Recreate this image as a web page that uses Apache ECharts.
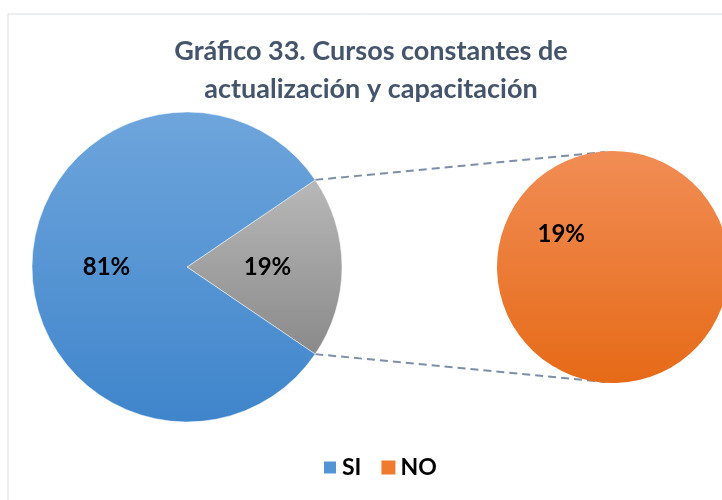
<!DOCTYPE html>
<html>
<head>
<meta charset="utf-8">
<script src="https://cdn.jsdelivr.net/npm/echarts@6/dist/echarts.min.js"></script>
<style>
  html, body { margin: 0; padding: 0; background: #fff; }
  #chart { width: 722px; height: 500px; }
</style>
</head>
<body>
<div id="chart"></div>
<script>
  var categories = ['SI', 'NO'];
  var values = [81, 19];
  var mainCenter = [187, 267], mainRadius = 155;
  var subCenter = [613, 267], subRadius = 116;

  // angulo de la porcion gris (NO), centrada a la derecha
  var half = values[1] / (values[0] + values[1]) * 180;
  var rad = half * Math.PI / 180;

  function grad(y0, y1, c0, c1) {
    return {type: 'linear', x: 0, y: y0, x2: 0, y2: y1, global: true,
      colorStops: [{offset: 0, color: c0}, {offset: 1, color: c1}]};
  }
  var blue = grad(mainCenter[1] - mainRadius, mainCenter[1] + mainRadius, '#6ea5dc', '#3f85cb');
  var gray = grad(mainCenter[1] - mainRadius * Math.sin(rad), mainCenter[1] + mainRadius * Math.sin(rad), '#b8b8b8', '#8a8a8a');
  var orange = grad(subCenter[1] - subRadius, subCenter[1] + subRadius, '#f18d55', '#e66a17');

  var p1 = [mainCenter[0] + mainRadius * Math.cos(rad), mainCenter[1] - mainRadius * Math.sin(rad)];
  var p2 = [mainCenter[0] + mainRadius * Math.cos(rad), mainCenter[1] + mainRadius * Math.sin(rad)];
  var q1 = [subCenter[0] - 8, subCenter[1] - subRadius + 1];
  var q2 = [subCenter[0] - 8, subCenter[1] + subRadius - 1];
  var lineStyle = {stroke: '#7d8ea6', lineWidth: 2, lineDash: [8, 5]};

  var labelStyle = {
    show: true, position: 'inside', color: '#000',
    fontFamily: 'Lato', fontWeight: 'bold', fontSize: 24,
    formatter: function (p) { return p.value + '%'; }
  };

  var option = {
    animation: false,
    title: {
      text: 'Gráfico 33. Cursos constantes de\nactualización y capacitación',
      left: 366, top: 27, textAlign: 'center',
      textStyle: {fontFamily: 'Lato', fontWeight: 'bold', fontSize: 27, color: '#44546a', lineHeight: 38}
    },
    legend: {
      data: [
        {name: categories[0], itemStyle: {color: '#5294d6'}},
        {name: categories[1], itemStyle: {color: '#ef7b2e'}}
      ],
      left: 317, bottom: 16, itemWidth: 14, itemHeight: 14, itemGap: 20,
      icon: 'rect',
      textStyle: {fontFamily: 'Lato', fontWeight: 'bold', fontSize: 23, color: '#000'}
    },
    graphic: [
      {type: 'rect', shape: {x: 8, y: 14, width: 740, height: 510}, style: {fill: 'none', stroke: '#d9dde3', lineWidth: 1}},
      {type: 'line', shape: {x1: p1[0], y1: p1[1], x2: q1[0], y2: q1[1]}, style: lineStyle, z: 1},
      {type: 'line', shape: {x1: p2[0], y1: p2[1], x2: q2[0], y2: q2[1]}, style: lineStyle, z: 1}
    ],
    series: [
      {
        type: 'pie', center: mainCenter, radius: mainRadius, startAngle: half,
        label: labelStyle, labelLine: {show: false},
        itemStyle: {borderColor: '#fff', borderWidth: 0.5},
        emphasis: {disabled: true},
        data: [
          {name: 'Otro', value: values[1], itemStyle: {color: gray}},
          {name: categories[0], value: values[0], itemStyle: {color: blue}}
        ]
      },
      {
        type: 'pie', center: subCenter, radius: subRadius, startAngle: 328,
        label: labelStyle, labelLine: {show: false},
        emphasis: {disabled: true},
        data: [
          {name: categories[1], value: values[1], itemStyle: {color: orange}}
        ]
      }
    ]
  };

  echarts.init(document.getElementById('chart')).setOption(option);
</script>
</body>
</html>
